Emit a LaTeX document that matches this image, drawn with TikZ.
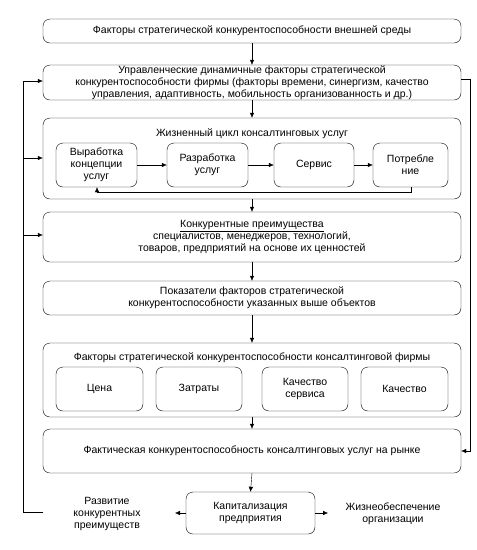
\documentclass[tikz,border=0pt]{standalone}
\usepackage{fontspec}
\setmainfont{Liberation Sans}
\usetikzlibrary{arrows.meta}
\begin{document}
\begin{tikzpicture}[x=1pt,y=-1pt,
  font=\fontsize{10.5}{12}\selectfont,
  box/.style={draw,rounded corners=7pt,align=center,inner sep=0pt},
  wide/.style={box,minimum width=418pt},
  arr/.style={-{Latex[length=5pt,width=4.5pt]}}]
\useasboundingbox (0,0) rectangle (477,550);
\node[wide,minimum height=24pt] (b1) at (252,31) {Факторы стратегической конкурентоспособности внешней среды};
\node[wide,minimum height=35pt] (b2) at (252,82.5) {Управленческие динамичные факторы стратегической\\конкурентоспособности фирмы (факторы времени, синергизм, качество\\управления, адаптивность, мобильность организованность и др.)};
\node[wide,minimum height=81pt] (b3) at (252,158.5) {};
\node (t3) at (252,134) {Жизненный цикл консалтинговых услуг};
\node[box,minimum width=81pt,minimum height=44pt] (i1) at (96.5,165) {Выработка\\концепции\\услуг};
\node[box,minimum width=81pt,minimum height=44pt] (i2) at (207.5,165) {Разработка\\услуг};
\node[box,minimum width=80pt,minimum height=44pt] (i3) at (314,165) {Сервис};
\node[box,minimum width=75pt,minimum height=44pt] (i4) at (410.5,165) {Потребле\\ние};
\node[wide,minimum height=50pt] (b4) at (252,237) {\underline{Конкурентные преимущества}\\специалистов, менеджеров, технологий,\\товаров, предприятий на основе их ценностей};
\node[wide,minimum height=34pt] (b5) at (252,298) {Показатели факторов стратегической\\конкурентоспособности указанных выше объектов};
\node[wide,minimum height=74pt] (b6) at (252,380) {};
\node (t6) at (252,358) {Факторы стратегической конкурентоспособности консалтинговой фирмы};
\node[box,minimum width=87pt,minimum height=44pt] (j1) at (99.5,389) {Цена};
\node[box,minimum width=86pt,minimum height=44pt] (j2) at (199,389) {Затраты};
\node[box,minimum width=86pt,minimum height=44pt] (j3) at (305,389) {Качество\\сервиса};
\node[box,minimum width=87pt,minimum height=44pt] (j4) at (404.5,389) {Качество};
\node[wide,minimum height=44pt] (b7) at (252,451) {Фактическая конкурентоспособность консалтинговых услуг на рынке};
\node[box,minimum width=129pt,minimum height=42pt] (b8) at (250.5,513) {Капитализация\\предприятия};
\node[align=center,inner sep=0pt] (lt) at (107,514) {Развитие\\конкурентных\\преимуществ};
\node[align=center,inner sep=0pt] (rt) at (393,514) {Жизнеобеспечение\\организации};
% vertical flow
\draw[arr] (b1.south) -- (b2.north);
\draw[arr] (b2.south) -- (b3.north);
\draw[arr] (b3.south) -- (b4.north);
\draw[arr] (b4.south) -- (b5.north);
\draw[arr] (b5.south) -- (b6.north);
\draw[arr] (b6.south) -- (b7.north);
\draw[arr] (b7.south) -- (b8.north);
% lifecycle
\draw[arr] (i1) -- (i2);
\draw[arr] (i2) -- (i3);
\draw[arr] (i3) -- (i4);
\coordinate (f1) at (411,192);
\coordinate (f2) at (97,192);
\draw[arr] (i4.south -| f1) -- (f1) -- (f2) -- (i1.south -| f2);
% bottom
\draw[arr] (b8.west) -- (175,513);
\draw[arr] (b8.east) -- (328,513);
% left loop
\coordinate (l0) at (43,512);
\coordinate (lb) at (23,512);
\coordinate (lt2) at (23,81);
\draw (l0) -- (lb) -- (lt2);
\draw[arr] (lt2) -- (lt2 -| b2.west);
\draw[arr] (23,158) -- (23,158 -| b3.west);
\draw[arr] (23,235) -- (23,235 -| b4.west);
% right loop
\coordinate (r0) at (470,79);
\coordinate (r1) at (470,451);
\draw[arr] (b2.east |- r0) -- (r0) -- (r1) -- (b7.east);
\end{tikzpicture}
\end{document}
